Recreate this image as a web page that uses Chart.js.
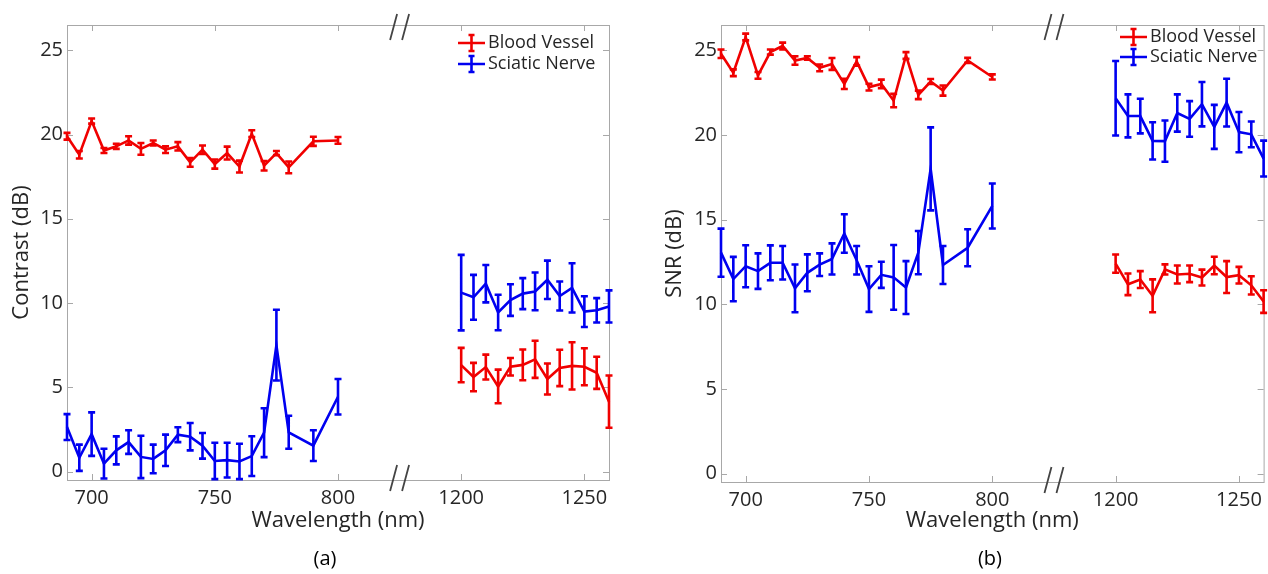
<!DOCTYPE html>
<html>
<head>
<meta charset="utf-8">
<script src="https://cdn.jsdelivr.net/npm/chart.js@4.4.1/dist/chart.umd.min.js"></script>
<style>
    body { margin: 0; background: #fff; width: 1268px; height: 574px; overflow: hidden; font-family: "Open Sans", sans-serif; }
    .painel { position: absolute; top: 0; width: 634px; height: 574px; }
    .letra { position: absolute; top: 544px; width: 60px; text-align: center; font-size: 20px; line-height: 28px; color: #000; }
</style>
</head>
<body>
<div class="painel" style="left:0"><canvas id="graficoA" width="634" height="574"></canvas></div>
<div class="painel" style="left:634px"><canvas id="graficoB" width="634" height="574"></canvas></div>
<div class="letra" style="left:295px">(a)</div>
<div class="letra" style="left:960px">(b)</div>
<script>
// Comprimentos de onda (nm) de cada trecho do eixo quebrado
const wlEsquerda = [690, 695, 700, 705, 710, 715, 720, 725, 730, 735, 740, 745, 750, 755, 760, 765, 770, 775, 780, 790, 800];
const wlDireita = [1200, 1205, 1210, 1215, 1220, 1225, 1230, 1235, 1240, 1245, 1250, 1255, 1260];

// Ticks dos eixos
const ticksX = [700, 750, 800, 1200, 1250];
const rotulosX = ["700", "750", "800", "1200", "1250"];
const ticksY = [0, 5, 10, 15, 20, 25];

// (a) Contraste - vaso sanguíneo
const contrasteVasoEsq = [19.9, 18.8, 20.8, 19.05, 19.3, 19.65, 19.15, 19.5, 19.1, 19.3, 18.35, 19.1, 18.25, 18.9, 18.1, 20.05, 18.15, 18.9, 18.05, 19.6, 19.65];
const contrasteVasoEsqErro = [0.2, 0.22, 0.15, 0.15, 0.15, 0.25, 0.35, 0.15, 0.2, 0.25, 0.26, 0.25, 0.27, 0.38, 0.35, 0.2, 0.28, 0.12, 0.35, 0.27, 0.2];
const contrasteVasoDir = [6.32, 5.61, 6.2, 5.05, 6.22, 6.33, 6.66, 5.49, 6.15, 6.27, 6.22, 5.86, 4.15];
const contrasteVasoDirErro = [1.02, 0.84, 0.74, 1.0, 0.52, 0.91, 1.1, 0.92, 1.08, 1.4, 1.1, 0.95, 1.55];
// (a) Contraste - nervo ciático
const contrasteNervoEsq = [2.64, 0.82, 2.22, 0.47, 1.26, 1.75, 0.87, 0.75, 1.26, 2.19, 2.07, 1.53, 0.63, 0.68, 0.6, 0.92, 2.31, 7.5, 2.33, 1.54, 4.44];
const contrasteNervoEsqErro = [0.77, 0.78, 1.29, 0.88, 0.83, 0.7, 1.26, 0.85, 0.93, 0.44, 0.81, 0.76, 1.08, 1.03, 1.05, 1.18, 1.45, 2.1, 0.98, 0.91, 1.05];
const contrasteNervoDir = [10.62, 10.34, 11.15, 9.44, 10.18, 10.56, 10.69, 11.38, 10.42, 10.9, 9.49, 9.57, 9.8];
const contrasteNervoDirErro = [2.24, 1.33, 1.11, 1.05, 0.94, 0.92, 1.12, 1.14, 0.86, 1.46, 0.91, 0.72, 0.95];

// (b) SNR - vaso sanguíneo
const snrVasoEsq = [24.8, 23.68, 25.79, 23.52, 24.9, 25.26, 24.4, 24.55, 23.97, 24.2, 23.02, 24.35, 22.83, 23.02, 22.04, 24.7, 22.37, 23.16, 22.63, 24.41, 23.43];
const snrVasoEsqErro = [0.25, 0.2, 0.2, 0.2, 0.15, 0.2, 0.25, 0.1, 0.2, 0.35, 0.3, 0.25, 0.2, 0.25, 0.4, 0.2, 0.25, 0.15, 0.3, 0.15, 0.15];
const snrVasoDir = [12.4, 11.18, 11.46, 10.5, 12.06, 11.76, 11.8, 11.58, 12.29, 11.61, 11.72, 11.12, 10.16];
const snrVasoDirErro = [0.54, 0.64, 0.5, 0.97, 0.3, 0.53, 0.49, 0.47, 0.52, 0.94, 0.49, 0.54, 0.67];
// (b) SNR - nervo ciático
const snrNervoEsq = [13.05, 11.49, 12.25, 11.96, 12.45, 12.45, 10.94, 11.86, 12.34, 12.68, 14.18, 12.6, 10.9, 11.74, 11.59, 10.99, 13.05, 18.0, 12.32, 13.34, 15.81];
const snrNervoEsqErro = [1.42, 1.31, 1.24, 1.05, 1.03, 0.99, 1.41, 1.09, 0.67, 0.92, 1.14, 0.84, 1.35, 0.77, 1.91, 1.56, 1.28, 2.45, 1.12, 1.09, 1.33];
const snrNervoDir = [22.17, 21.13, 21.12, 19.65, 19.64, 21.3, 20.95, 21.82, 20.48, 21.91, 20.17, 20.04, 18.61];
const snrNervoDirErro = [2.2, 1.27, 1.02, 1.1, 1.22, 1.1, 1.05, 1.31, 1.3, 1.41, 1.19, 0.76, 1.06];

const VERMELHO = "#f00000";
const AZUL = "#0000f0";
const TEXTO = "#262626";
const EIXO = "#a8a8a8";
const FONTE = "'Open Sans', sans-serif";

// Eixo quebrado: o trecho 1200-1260 é deslocado para logo depois de 800
function posicaoEixo(w) {
    return w <= 800 ? w : w - 350;
}
const QUEBRA = 825;

function serie(rotulo, cor, comprimentos, valores, erros) {
    return {
        label: rotulo,
        borderColor: cor,
        backgroundColor: cor,
        borderWidth: 2.6,
        pointRadius: 0,
        tension: 0,
        clip: false,
        data: comprimentos.map((w, i) => ({ x: posicaoEixo(w), y: valores[i] })),
        erros: erros
    };
}

// Plugin: barras de erro, moldura com ticks para dentro, marcas "//" e legenda
const pluginMoldura = {
    id: "moldura",
    beforeDatasetsDraw(chart) {
        const { ctx, chartArea: a, scales } = chart;
        ctx.save();
        ctx.strokeStyle = EIXO;
        ctx.lineWidth = 1;
        ctx.strokeRect(a.left + 0.5, a.top + 0.5, a.right - a.left, a.bottom - a.top);
        ctx.beginPath();
        ticksX.forEach(w => {
            const x = Math.round(scales.x.getPixelForValue(posicaoEixo(w))) + 0.5;
            ctx.moveTo(x, a.bottom); ctx.lineTo(x, a.bottom - 6);
            ctx.moveTo(x, a.top); ctx.lineTo(x, a.top + 6);
        });
        ticksY.forEach(v => {
            const y = Math.round(scales.y.getPixelForValue(v)) + 0.5;
            ctx.moveTo(a.left, y); ctx.lineTo(a.left + 6, y);
            ctx.moveTo(a.right, y); ctx.lineTo(a.right - 6, y);
        });
        ctx.stroke();
        ctx.restore();
    },
    afterDatasetsDraw(chart) {
        const { ctx, scales } = chart;
        ctx.save();
        ctx.lineWidth = 2.6;
        chart.data.datasets.forEach(ds => {
            if (!ds.erros) return;
            ctx.strokeStyle = ds.borderColor;
            ctx.beginPath();
            ds.data.forEach((p, j) => {
                const x = scales.x.getPixelForValue(p.x);
                const yTop = scales.y.getPixelForValue(p.y + ds.erros[j]);
                const yBot = scales.y.getPixelForValue(p.y - ds.erros[j]);
                ctx.moveTo(x, yTop); ctx.lineTo(x, yBot);
                ctx.moveTo(x - 3.5, yTop); ctx.lineTo(x + 3.5, yTop);
                ctx.moveTo(x - 3.5, yBot); ctx.lineTo(x + 3.5, yBot);
            });
            ctx.stroke();
        });
        ctx.restore();
    },
    afterDraw(chart, args, opts) {
        const { ctx, chartArea: a, scales } = chart;
        ctx.save();
        // marcas de quebra
        const xq = scales.x.getPixelForValue(QUEBRA);
        ctx.strokeStyle = "#444";
        ctx.lineWidth = 1.8;
        ctx.beginPath();
        [a.top + 2, a.bottom - 2].forEach(yc => {
            [-6, 6].forEach(dx => {
                ctx.moveTo(xq + dx - 3.5, yc + 13);
                ctx.lineTo(xq + dx + 3.5, yc - 13);
            });
        });
        ctx.stroke();

        // legenda
        ctx.font = "18px " + FONTE;
        ctx.textBaseline = "middle";
        ctx.lineWidth = 2.6;
        opts.linhasLegenda.forEach((yl, i) => {
            const ds = chart.data.datasets[i * 2];
            const x0 = opts.xLegenda;
            const xm = x0 + 13.5;
            ctx.strokeStyle = ds.borderColor;
            ctx.beginPath();
            ctx.moveTo(x0, yl); ctx.lineTo(x0 + 27, yl);
            ctx.moveTo(xm, yl - 8); ctx.lineTo(xm, yl + 8);
            ctx.moveTo(xm - 3, yl - 8); ctx.lineTo(xm + 3, yl - 8);
            ctx.moveTo(xm - 3, yl + 8); ctx.lineTo(xm + 3, yl + 8);
            ctx.stroke();
            ctx.fillStyle = TEXTO;
            ctx.fillText(ds.label, x0 + 30, yl);
        });
        ctx.restore();
    }
};

function criarGrafico(id, config) {
    const ctx = document.getElementById(id).getContext("2d");
    return new Chart(ctx, {
        type: "line",
        data: { datasets: config.datasets },
        options: {
            responsive: false,
            animation: false,
            layout: { padding: { left: 0, right: config.margemDireita, top: 25, bottom: 0 } },
            plugins: {
                legend: { display: false },
                tooltip: { enabled: false },
                moldura: { xLegenda: config.xLegenda, linhasLegenda: config.linhasLegenda }
            },
            scales: {
                x: {
                    type: "linear",
                    min: posicaoEixo(690),
                    max: posicaoEixo(1260),
                    afterBuildTicks: s => { s.ticks = ticksX.map(w => ({ value: posicaoEixo(w) })); },
                    ticks: {
                        callback: (v, i) => rotulosX[i],
                        font: { family: FONTE, size: 20 },
                        color: TEXTO,
                        padding: 6,
                        maxRotation: 0,
                        autoSkip: false
                    },
                    grid: { display: false, drawTicks: false },
                    border: { display: false },
                    title: {
                        display: true,
                        text: "Wavelength (nm)",
                        font: { family: FONTE, size: 22 },
                        color: TEXTO,
                        padding: { top: 0, bottom: 40 }
                    },
                    afterFit: s => { s.height = config.alturaX; }
                },
                y: {
                    type: "linear",
                    min: -0.5,
                    max: 26.5,
                    afterBuildTicks: s => { s.ticks = ticksY.map(v => ({ value: v })); },
                    ticks: {
                        font: { family: FONTE, size: 20 },
                        color: TEXTO,
                        padding: 4
                    },
                    grid: { display: false, drawTicks: false },
                    border: { display: false },
                    title: {
                        display: true,
                        text: config.tituloY,
                        font: { family: FONTE, size: 22 },
                        color: TEXTO,
                        padding: { top: config.recuoTituloY, bottom: 0 }
                    },
                    afterFit: s => { s.width = config.larguraY; }
                }
            }
        },
        plugins: [pluginMoldura]
    });
}

criarGrafico("graficoA", {
    datasets: [
        serie("Blood Vessel", VERMELHO, wlEsquerda, contrasteVasoEsq, contrasteVasoEsqErro),
        serie("Blood Vessel", VERMELHO, wlDireita, contrasteVasoDir, contrasteVasoDirErro),
        serie("Sciatic Nerve", AZUL, wlEsquerda, contrasteNervoEsq, contrasteNervoEsqErro),
        serie("Sciatic Nerve", AZUL, wlDireita, contrasteNervoDir, contrasteNervoDirErro)
    ],
    tituloY: "Contrast (dB)",
    recuoTituloY: 9,
    larguraY: 67,
    alturaX: 94,
    margemDireita: 25,
    xLegenda: 458,
    linhasLegenda: [43, 64]
});

criarGrafico("graficoB", {
    datasets: [
        serie("Blood Vessel", VERMELHO, wlEsquerda, snrVasoEsq, snrVasoEsqErro),
        serie("Blood Vessel", VERMELHO, wlDireita, snrVasoDir, snrVasoDirErro),
        serie("Sciatic Nerve", AZUL, wlEsquerda, snrNervoEsq, snrNervoEsqErro),
        serie("Sciatic Nerve", AZUL, wlDireita, snrNervoDir, snrNervoDirErro)
    ],
    tituloY: "SNR (dB)",
    recuoTituloY: 28,
    larguraY: 87,
    alturaX: 92,
    margemDireita: 4,
    xLegenda: 486,
    linhasLegenda: [37, 57]
});
</script>
</body>
</html>
